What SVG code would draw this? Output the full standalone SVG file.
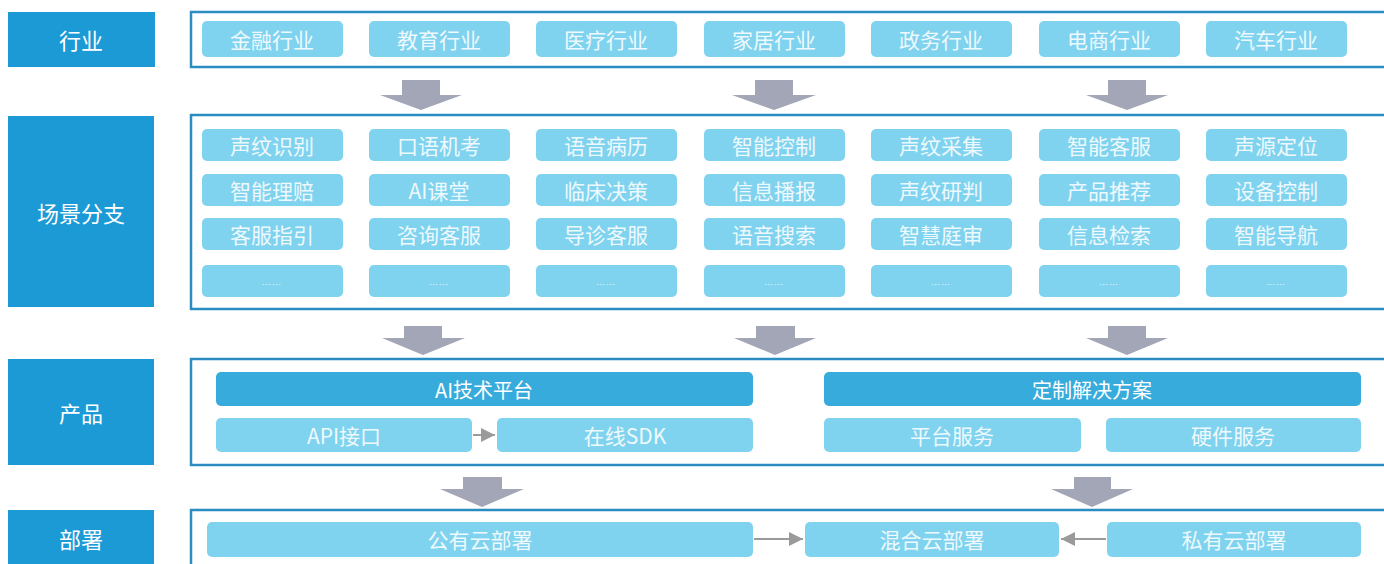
<svg xmlns="http://www.w3.org/2000/svg" width="1384" height="564" viewBox="0 0 1384 564">
<defs>
<style>
text{font-family:"Noto Sans CJK SC","Noto Sans",sans-serif;text-anchor:middle;dominant-baseline:central;fill:#ffffff}
.lbl{fill:#1c9ad6}
.lt{font-size:22px}
.frame{fill:#ffffff;stroke:#2a8cc0;stroke-width:2.5}
.pill{fill:#80d3ef}
.pt{font-size:21px;fill:#eef9fd}
.dots{font-size:9px;fill:#e4f5fb;letter-spacing:1px}
.bar{fill:#38abdd}
.bt{font-size:20px}
.big{fill:#a3a6b6}
.con{stroke:#9a9a9a;stroke-width:2;fill:none;marker-end:url(#ah)}
</style>
<marker id="ah" viewBox="0 0 10 10" refX="10" refY="5" markerWidth="14" markerHeight="14" markerUnits="userSpaceOnUse" orient="auto"><path d="M0,0 L10,5 L0,10 z" fill="#9a9a9a"/></marker>
</defs>
<rect width="1384" height="564" fill="#ffffff"/>

<g id="row-industry">
<rect class="lbl" x="8" y="12" width="147" height="55"/>
<text class="lt" x="81" y="39">行业</text>
<rect class="frame" x="191" y="12" width="1200" height="55"/>
</g>
<g id="n-jinrong"><rect class="pill" x="202" y="21" width="141" height="36" rx="5"/><text class="pt" x="272" y="39">金融行业</text></g>
<g id="n-jiaoyu"><rect class="pill" x="369" y="21" width="141" height="36" rx="5"/><text class="pt" x="439" y="39">教育行业</text></g>
<g id="n-yiliao"><rect class="pill" x="536" y="21" width="141" height="36" rx="5"/><text class="pt" x="606" y="39">医疗行业</text></g>
<g id="n-jiaju"><rect class="pill" x="704" y="21" width="141" height="36" rx="5"/><text class="pt" x="774" y="39">家居行业</text></g>
<g id="n-zhengwu"><rect class="pill" x="871" y="21" width="141" height="36" rx="5"/><text class="pt" x="941" y="39">政务行业</text></g>
<g id="n-dianshang"><rect class="pill" x="1039" y="21" width="141" height="36" rx="5"/><text class="pt" x="1109" y="39">电商行业</text></g>
<g id="n-qiche"><rect class="pill" x="1206" y="21" width="141" height="36" rx="5"/><text class="pt" x="1276" y="39">汽车行业</text></g>

<g id="row-scene">
<rect class="lbl" x="8" y="116" width="146" height="191"/>
<text class="lt" x="81" y="212">场景分支</text>
<rect class="frame" x="191" y="115" width="1200" height="194"/>
</g>
<g id="col-1">
<rect class="pill" x="202" y="129" width="141" height="32" rx="5"/><text class="pt" x="272" y="145">声纹识别</text>
<rect class="pill" x="202" y="174" width="141" height="32" rx="5"/><text class="pt" x="272" y="190">智能理赔</text>
<rect class="pill" x="202" y="218" width="141" height="32" rx="5"/><text class="pt" x="272" y="234">客服指引</text>
<rect class="pill" x="202" y="265" width="141" height="32" rx="5"/><text class="dots" x="272" y="284">……</text>
</g>
<g id="col-2">
<rect class="pill" x="369" y="129" width="141" height="32" rx="5"/><text class="pt" x="439" y="145">口语机考</text>
<rect class="pill" x="369" y="174" width="141" height="32" rx="5"/><text class="pt" x="439" y="190">AI课堂</text>
<rect class="pill" x="369" y="218" width="141" height="32" rx="5"/><text class="pt" x="439" y="234">咨询客服</text>
<rect class="pill" x="369" y="265" width="141" height="32" rx="5"/><text class="dots" x="439" y="284">……</text>
</g>
<g id="col-3">
<rect class="pill" x="536" y="129" width="141" height="32" rx="5"/><text class="pt" x="606" y="145">语音病历</text>
<rect class="pill" x="536" y="174" width="141" height="32" rx="5"/><text class="pt" x="606" y="190">临床决策</text>
<rect class="pill" x="536" y="218" width="141" height="32" rx="5"/><text class="pt" x="606" y="234">导诊客服</text>
<rect class="pill" x="536" y="265" width="141" height="32" rx="5"/><text class="dots" x="606" y="284">……</text>
</g>
<g id="col-4">
<rect class="pill" x="704" y="129" width="141" height="32" rx="5"/><text class="pt" x="774" y="145">智能控制</text>
<rect class="pill" x="704" y="174" width="141" height="32" rx="5"/><text class="pt" x="774" y="190">信息播报</text>
<rect class="pill" x="704" y="218" width="141" height="32" rx="5"/><text class="pt" x="774" y="234">语音搜索</text>
<rect class="pill" x="704" y="265" width="141" height="32" rx="5"/><text class="dots" x="774" y="284">……</text>
</g>
<g id="col-5">
<rect class="pill" x="871" y="129" width="141" height="32" rx="5"/><text class="pt" x="941" y="145">声纹采集</text>
<rect class="pill" x="871" y="174" width="141" height="32" rx="5"/><text class="pt" x="941" y="190">声纹研判</text>
<rect class="pill" x="871" y="218" width="141" height="32" rx="5"/><text class="pt" x="941" y="234">智慧庭审</text>
<rect class="pill" x="871" y="265" width="141" height="32" rx="5"/><text class="dots" x="941" y="284">……</text>
</g>
<g id="col-6">
<rect class="pill" x="1039" y="129" width="141" height="32" rx="5"/><text class="pt" x="1109" y="145">智能客服</text>
<rect class="pill" x="1039" y="174" width="141" height="32" rx="5"/><text class="pt" x="1109" y="190">产品推荐</text>
<rect class="pill" x="1039" y="218" width="141" height="32" rx="5"/><text class="pt" x="1109" y="234">信息检索</text>
<rect class="pill" x="1039" y="265" width="141" height="32" rx="5"/><text class="dots" x="1109" y="284">……</text>
</g>
<g id="col-7">
<rect class="pill" x="1206" y="129" width="141" height="32" rx="5"/><text class="pt" x="1276" y="145">声源定位</text>
<rect class="pill" x="1206" y="174" width="141" height="32" rx="5"/><text class="pt" x="1276" y="190">设备控制</text>
<rect class="pill" x="1206" y="218" width="141" height="32" rx="5"/><text class="pt" x="1276" y="234">智能导航</text>
<rect class="pill" x="1206" y="265" width="141" height="32" rx="5"/><text class="dots" x="1276" y="284">……</text>
</g>

<g id="row-product">
<rect class="lbl" x="8" y="359" width="146" height="106"/>
<text class="lt" x="81" y="412">产品</text>
<rect class="frame" x="191" y="359" width="1200" height="106"/>
</g>
<g id="n-ai-platform"><rect class="bar" x="216" y="372" width="537" height="34" rx="5"/><text class="bt" x="484" y="389">AI技术平台</text></g>
<g id="n-api"><rect class="pill" x="216" y="418" width="256" height="34" rx="5"/><text class="pt" x="344" y="435">API接口</text></g>
<g id="n-sdk"><rect class="pill" x="497" y="418" width="256" height="34" rx="5"/><text class="pt" x="625" y="435">在线SDK</text></g>
<g id="n-custom"><rect class="bar" x="824" y="372" width="537" height="34" rx="5"/><text class="bt" x="1092" y="389">定制解决方案</text></g>
<g id="n-platform-svc"><rect class="pill" x="824" y="418" width="257" height="34" rx="5"/><text class="pt" x="952" y="435">平台服务</text></g>
<g id="n-hardware-svc"><rect class="pill" x="1106" y="418" width="255" height="34" rx="5"/><text class="pt" x="1233" y="435">硬件服务</text></g>

<g id="row-deploy">
<rect class="lbl" x="8" y="510" width="146" height="60"/>
<text class="lt" x="81" y="538">部署</text>
<rect class="frame" x="191" y="510" width="1200" height="60"/>
</g>
<g id="n-public"><rect class="pill" x="207" y="522" width="546" height="35" rx="5"/><text class="pt" x="480" y="539">公有云部署</text></g>
<g id="n-hybrid"><rect class="pill" x="805" y="522" width="254" height="35" rx="5"/><text class="pt" x="932" y="539">混合云部署</text></g>
<g id="n-private"><rect class="pill" x="1107" y="522" width="254" height="35" rx="5"/><text class="pt" x="1234" y="539">私有云部署</text></g>

<g id="connectors">
<polygon class="big" points="402,80 440,80 440,95 462,95 421,110 380,95 402,95"/>
<polygon class="big" points="755,80 793,80 793,95 816,95 774,110 732,95 755,95"/>
<polygon class="big" points="1108,80 1146,80 1146,95 1168,95 1127,110 1086,95 1108,95"/>
<polygon class="big" points="404,326 442,326 442,338 465,338 423,355 382,338 404,338"/>
<polygon class="big" points="756,326 795,326 795,338 816,338 775,355 734,338 756,338"/>
<polygon class="big" points="1108,326 1146,326 1146,338 1168,338 1127,355 1086,338 1108,338"/>
<polygon class="big" points="463,477 502,477 502,489 524,489 482,507 440,489 463,489"/>
<polygon class="big" points="1074,477 1111,477 1111,489 1133,489 1092,507 1051,489 1074,489"/>
<line class="con" x1="473" y1="435" x2="495" y2="435"/>
<line class="con" x1="754" y1="539" x2="803" y2="539"/>
<line class="con" x1="1106" y1="539" x2="1061" y2="539"/>
</g>
</svg>
